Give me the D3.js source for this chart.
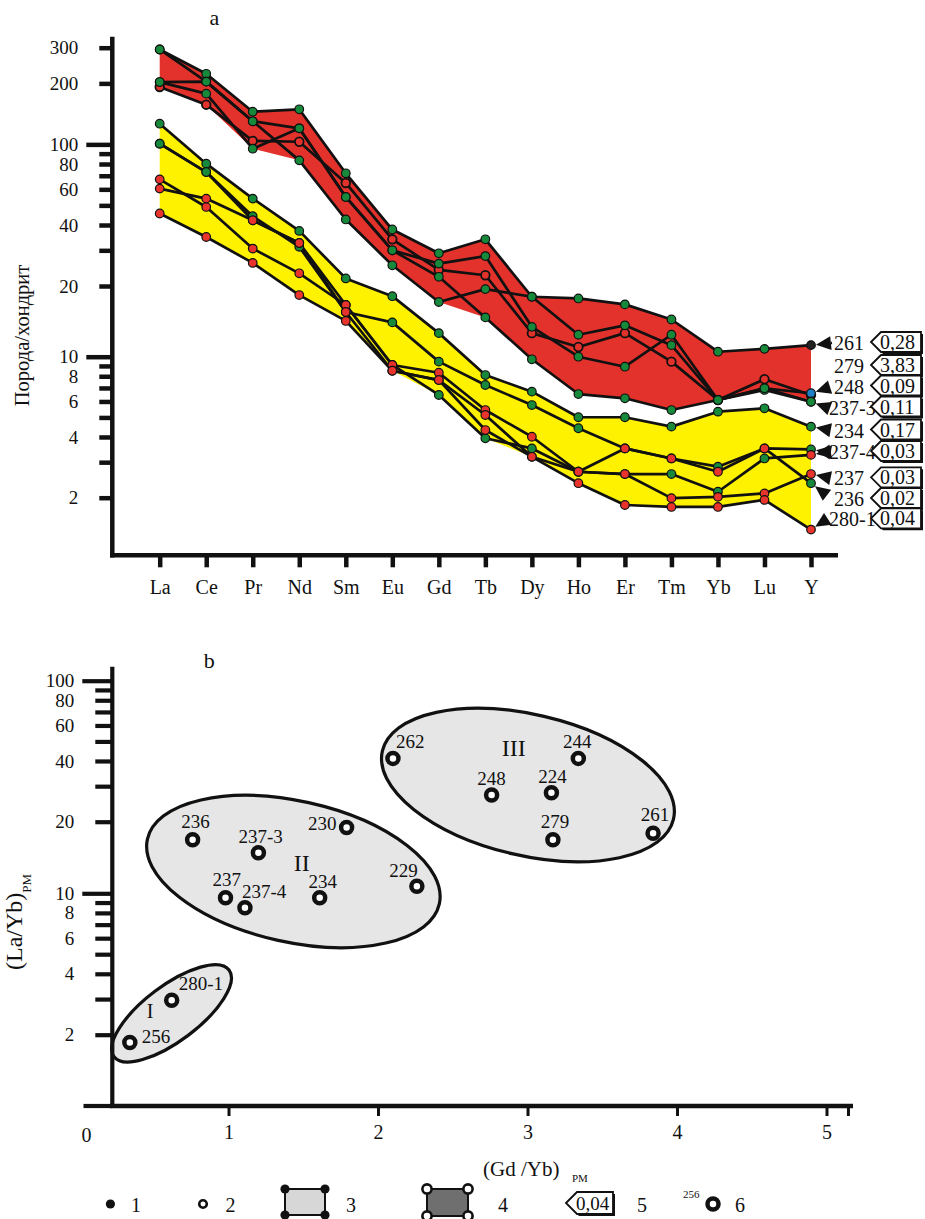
<!DOCTYPE html>
<html>
<head>
<meta charset="utf-8">
<script src="https://cdn.jsdelivr.net/npm/d3@7"></script>
<style>
  body { margin: 0; background: #fff; }
  text { font-family: "Liberation Serif", "Times New Roman", serif; fill: #111; }
</style>
</head>
<body>
<script>
// ---- data, chart a (rock / chondrite) ----
const elements = ['La','Ce','Pr','Nd','Sm','Eu','Gd','Tb','Dy','Ho','Er','Tm','Yb','Lu','Y'];

// red field
const s261  = [294, 223, 145, 149, 72, 38, 29, 34, 18.0, 17.7, 16.7, 14.4, 10.5, 10.8, 11.2];
const s279  = [192, 157, 104, 103, 64.5, 34, 24, 22.6, 12.6, 11.0, 12.6, 9.45, 6.10, 7.73, 6.46];
const s248  = [294, 204, 130, 120, 55, 30, 25.8, 28.1, 13.4, 10.0, 8.92, 12.4, 6.10, 6.97, 6.59];
const s2373 = [203, 178, 95.2, 120, 55, 30, 22.2, 14.7, 9.71, 6.53, 6.22, 5.44, 6.10, 6.84, 5.98];
const sRed5 = [203, 204, 130, 83.4, 42.6, 25.3, 17.1, 19.4, 18.0, 12.4, 13.6, 11.2, 6.10, 6.97, 5.98];
// yellow field
const s234  = [126.5, 80.3, 54.0, 37.4, 21.8, 18.1, 12.6, 8.11, 6.71, 5.01, 5.01, 4.50, 5.34, 5.55, 4.50];
const s2374 = [100.8, 73.0, 44.2, 31.2, 15.5, 14.0, 9.45, 7.24, 5.76, 4.42, 3.51, 3.13, 2.85, 3.51, 3.47];
const sYel6 = [100.8, 73.0, 42.2, 32.6, 16.6, 9.10, 6.46, 3.94, 3.51, 2.69, 2.62, 2.62, 2.14, 3.13, 3.26];
const s237  = [67.2, 49.1, 30.6, 23.1, 16.6, 9.10, 8.33, 5.44, 4.01, 2.69, 2.62, 1.99, 2.02, 2.10, 2.62];
const s236  = [60.5, 54.0, 42.2, 32.6, 15.5, 8.52, 7.66, 5.14, 3.19, 2.69, 3.51, 3.13, 2.69, 3.51, 2.36];
const s2801 = [45.6, 34.9, 26.0, 18.3, 14.2, 8.52, 7.66, 4.33, 3.19, 2.36, 1.84, 1.80, 1.80, 1.95, 1.39];

const yTicksA   = [300, 200, 100, 90, 80, 70, 60, 50, 40, 30, 20, 10, 9, 8, 7, 6, 5, 4, 3, 2];
const yLabelsA  = [300, 200, 100, 80, 60, 40, 20, 10, 8, 6, 4, 2];
const sampleLabels = ['261','279','248','237-3','234','237-4','237','236','280-1'];
const sampleRatios = ['0,28','3,83','0,09','0,11','0,17','0,03','0,03','0,02','0,04'];

// ---- data, chart b ----
const sampleIds = ['262','236','237-3','230','229','237','237-4','234','244','248','224','279','261','280-1','256'];
const gdYb = [2.10, 0.76, 1.20, 1.79, 2.26, 0.98, 1.11, 1.61, 3.34, 2.76, 3.16, 3.17, 3.84, 0.62, 0.34];
const laYb = [41.2, 16.8, 14.8, 18.9, 10.7, 9.51, 8.49, 9.51, 41.2, 27.1, 27.8, 16.8, 17.9, 2.96, 1.83];
const groupNames = ['I','II','III'];
const groupGdYb  = [0.619, 1.434, 3.003];
const groupLaYb  = [2.55, 12.35, 30.4];
const yTicksB  = [100, 90, 80, 70, 60, 50, 40, 30, 20, 10, 9, 8, 7, 6, 5, 4, 3, 2];
const yLabelsB = [100, 80, 60, 40, 20, 10, 8, 6, 4, 2];
const xTicksB  = [1, 2, 3, 4, 5];

// ---- styles ----
const RED_FILL = '#e2322b', YELLOW = '#fff200', GREEN = '#17893b', RED_DOT = '#e8342c', BLUE = '#1f80c8', INK = '#111';
const FONT = '"Liberation Serif", "Times New Roman", serif';

const redSeries = [
  {id: '261', values: s261, dot: GREEN, end: '#222'},
  {id: '279', values: s279, dot: RED_FILL, open: true},
  {id: '248', values: s248, dot: GREEN, end: BLUE},
  {id: '237-3', values: s2373, dot: GREEN},
  {id: 'r5', values: sRed5, dot: GREEN}
];
const yellowSeries = [
  {id: '234', values: s234, dot: GREEN},
  {id: '237-4', values: s2374, dot: GREEN},
  {id: 'y6', values: sYel6, dot: GREEN, end: RED_DOT},
  {id: '237', values: s237, dot: RED_DOT},
  {id: '236', values: s236, dot: RED_DOT, end: GREEN},
  {id: '280-1', values: s2801, dot: RED_DOT}
];
// which line ends each side label points at
const labelTargets = {'261': ['261'], '279': [], '248': ['248'], '237-3': ['237-3'], '234': ['234'],
  '237-4': ['237-4', 'y6'], '237': ['237'], '236': ['236'], '280-1': ['280-1']};
const labelRowY = [343, 366, 386.5, 407.5, 430.5, 452, 478.3, 499, 519.3];

const svg = d3.select('body').append('svg').attr('width', 925).attr('height', 1219);

// ================= chart a =================
const xA = d3.scalePoint().domain(elements).range([159.7, 811]);
// hand-drawn log axis: decades are not evenly spaced, so piecewise on log10
const yLogA = d3.scaleLinear()
  .domain([Math.log10(2), 1, Math.log10(20), Math.log10(300)])
  .range([497.7, 356.7, 286, 47.7]);
const yA = v => yLogA(Math.log10(v));

const gA = svg.append('g').attr('id', 'chartA');

function envelope(series) {
  return elements.map((e, i) => ({e: e,
    lo: d3.min(series, s => s.values[i]), hi: d3.max(series, s => s.values[i])}));
}
const band = d3.area().x(d => xA(d.e)).y0(d => yA(d.lo)).y1(d => yA(d.hi));
gA.append('path').datum(envelope(redSeries)).attr('d', band).attr('fill', RED_FILL);
gA.append('path').datum(envelope(yellowSeries)).attr('d', band).attr('fill', YELLOW);

const lineA = d3.line().x((d, i) => xA(elements[i])).y(d => yA(d));
const allSeries = redSeries.concat(yellowSeries);
gA.selectAll('path.series').data(allSeries).enter().append('path')
  .attr('class', 'series')
  .attr('d', d => lineA(d.values))
  .attr('fill', 'none').attr('stroke', INK).attr('stroke-width', 2.7).attr('stroke-linejoin', 'round');

allSeries.forEach(s => {
  gA.selectAll(null).data(s.values).enter().append('circle')
    .attr('cx', (d, i) => xA(elements[i]))
    .attr('cy', d => yA(d))
    .attr('r', 4.3)
    .attr('fill', (d, i) => (i == elements.length - 1 && s.end) ? s.end : s.dot)
    .attr('stroke', INK).attr('stroke-width', s.open ? 1.8 : 1.2);
});

// axes a
const yAxisA = gA.append('g').attr('transform', 'translate(112.3,0)')
  .call(d3.axisLeft(yLogA).tickValues(yTicksA.map(Math.log10)).tickSize(13).tickPadding(21).tickSizeOuter(0)
    .tickFormat(l => { const v = Math.round(Math.pow(10, l)); return yLabelsA.includes(v) ? v : ''; }));
yAxisA.select('.domain').remove();
yAxisA.attr('font-family', FONT).attr('font-size', 19);
yAxisA.selectAll('.tick line').attr('stroke', INK).attr('stroke-width', 4.5)
  .attr('x2', l => [100, 10].includes(Math.round(Math.pow(10, l))) ? -26 : -13);
yAxisA.selectAll('.tick text').attr('fill', INK);

const xAxisA = gA.append('g').attr('transform', 'translate(0,555.3)')
  .call(d3.axisBottom(xA).tickSize(12).tickPadding(13).tickSizeOuter(0));
xAxisA.select('.domain').remove();
xAxisA.attr('font-family', FONT).attr('font-size', 20);
xAxisA.selectAll('.tick line').attr('stroke', INK).attr('stroke-width', 4.5);
xAxisA.selectAll('.tick text').attr('fill', INK);

gA.append('line').attr('x1', 112.3).attr('x2', 112.3).attr('y1', 36.7).attr('y2', 557.5)
  .attr('stroke', INK).attr('stroke-width', 4.5);
gA.append('line').attr('x1', 110).attr('x2', 838).attr('y1', 555.3).attr('y2', 555.3)
  .attr('stroke', INK).attr('stroke-width', 4.5);

gA.append('text').attr('x', 214.3).attr('y', 17).attr('text-anchor', 'middle')
  .attr('dominant-baseline', 'central').attr('font-size', 22).text('a');
gA.append('text').attr('transform', 'translate(29,335.5) rotate(-90)').attr('text-anchor', 'middle')
  .attr('font-size', 20.5).text('Порода/хондрит');

// value box (legend item 5 style)
function valueBox(g, tipX, cy, w, h, label, fs) {
  const pts = [[tipX, cy], [tipX + h / 2, cy - h / 2], [tipX + w, cy - h / 2], [tipX + w, cy + h / 2], [tipX + h / 2, cy + h / 2]];
  g.append('polygon').attr('points', pts.map(p => (p[0] + 2) + ',' + (p[1] + 2)).join(' ')).attr('fill', INK);
  g.append('polygon').attr('points', pts.map(p => p.join(',')).join(' '))
    .attr('fill', '#fff').attr('stroke', INK).attr('stroke-width', 1.8);
  g.append('text').attr('x', tipX + h / 2 - 1).attr('y', cy).attr('dominant-baseline', 'central')
    .attr('font-size', fs).text(label);
}

// side labels with arrows
const seriesById = {};
allSeries.forEach(s => seriesById[s.id] = s);
sampleLabels.forEach((name, k) => {
  const ry = labelRowY[k];
  const tx = name.length > 3 ? 829 : 834;
  gA.append('text').attr('x', tx).attr('y', ry).attr('dominant-baseline', 'central')
    .attr('font-size', 20).text(name);
  valueBox(gA, 871, ry - 1, 50, 20, sampleRatios[k], 20);
  labelTargets[name].forEach(id => {
    const s = seriesById[id];
    const T = [xA('Y'), yA(s.values[s.values.length - 1])];
    const A = [tx - 2, ry];
    const len = Math.hypot(A[0] - T[0], A[1] - T[1]);
    const d = [(A[0] - T[0]) / len, (A[1] - T[1]) / len];
    const tip = [T[0] + d[0] * 5, T[1] + d[1] * 5];
    const base = [tip[0] + d[0] * 15, tip[1] + d[1] * 15];
    const n = [-d[1] * 7, d[0] * 7];
    gA.append('polygon')
      .attr('points', [tip, [base[0] + n[0], base[1] + n[1]], [base[0] - n[0], base[1] - n[1]]].map(p => p.join(',')).join(' '))
      .attr('fill', INK);
    if (name == '261') {
      gA.append('line').attr('x1', base[0]).attr('y1', base[1]).attr('x2', A[0]).attr('y2', A[1])
        .attr('stroke', INK).attr('stroke-width', 2.5);
    }
  });
});

// ================= chart b =================
const xB = d3.scaleLinear().domain([0, 5]).range([79, 826.5]);
const yLogB = d3.scaleLinear()
  .domain([Math.log10(2), 1, Math.log10(20), 2])
  .range([1034.7, 893.3, 821.7, 680.7]);
const yB = v => yLogB(Math.log10(v));

const gB = svg.append('g').attr('id', 'chartB');

// group ellipses (sizes in px, centres in data units)
const ellipseShape = [{rx: 72, ry: 27.6, rot: -37, ldx: -21.5, ldy: -2, fs: 20},
                      {rx: 149.5, ry: 70.5, rot: 12.5, ldx: 8.3, ldy: -8.2, fs: 24},
                      {rx: 149.5, ry: 70.5, rot: 13.2, ldx: -14.2, ldy: -36.7, fs: 24}];
groupNames.forEach((nm, i) => {
  const cx = xB(groupGdYb[i]), cy = yB(groupLaYb[i]), e = ellipseShape[i];
  gB.append('ellipse').attr('transform', 'translate(' + cx + ',' + cy + ') rotate(' + e.rot + ')')
    .attr('rx', e.rx).attr('ry', e.ry).attr('fill', '#e6e6e6').attr('stroke', INK).attr('stroke-width', 3.2);
  gB.append('text').attr('x', cx + e.ldx).attr('y', cy + e.ldy).attr('text-anchor', 'middle')
    .attr('dominant-baseline', 'central').attr('font-size', e.fs).text(nm);
});

// point label placement
const labelPos = {
  '262': [3, -10, 'start'], '236': [3, -12, 'middle'], '237-3': [-20, -10, 'start'], '230': [-10, 2, 'end'],
  '229': [1, -9, 'end'], '237': [-13, -12, 'start'], '237-4': [-3, -10, 'start'], '234': [3, -10, 'middle'],
  '244': [-1, -10, 'middle'], '248': [0, -10, 'middle'], '224': [1, -10, 'middle'], '279': [2, -12, 'middle'],
  '261': [2, -12, 'middle'], '280-1': [7, -10, 'start'], '256': [12, 0, 'start']
};
const pts = sampleIds.map((id, i) => ({id: id, x: gdYb[i], y: laYb[i]}));
gB.selectAll('circle.pt').data(pts).enter().append('circle').attr('class', 'pt')
  .attr('cx', d => xB(d.x)).attr('cy', d => yB(d.y)).attr('r', 5.5)
  .attr('fill', '#fff').attr('stroke', INK).attr('stroke-width', 4.5);
gB.selectAll('text.pl').data(pts).enter().append('text').attr('class', 'pl')
  .attr('x', d => xB(d.x) + labelPos[d.id][0]).attr('y', d => yB(d.y) + labelPos[d.id][1])
  .attr('text-anchor', d => labelPos[d.id][2]).attr('font-size', 19).text(d => d.id);

// axes b
const yAxisB = gB.append('g').attr('transform', 'translate(112.3,0)')
  .call(d3.axisLeft(yLogB).tickValues(yTicksB.map(Math.log10)).tickSize(17).tickPadding(21).tickSizeOuter(0)
    .tickFormat(l => { const v = Math.round(Math.pow(10, l)); return yLabelsB.includes(v) ? v : ''; }));
yAxisB.select('.domain').remove();
yAxisB.attr('font-family', FONT).attr('font-size', 19);
yAxisB.selectAll('.tick line').attr('stroke', INK).attr('stroke-width', 4.2)
  .attr('x2', l => [100, 10].includes(Math.round(Math.pow(10, l))) ? -30 : -17);
yAxisB.selectAll('.tick text').attr('fill', INK);

const xAxisB = gB.append('g').attr('transform', 'translate(0,1106)')
  .call(d3.axisBottom(xB).tickValues(xTicksB).tickSize(10).tickPadding(9).tickSizeOuter(0).tickFormat(d3.format('d')));
xAxisB.select('.domain').remove();
xAxisB.attr('font-family', FONT).attr('font-size', 20);
xAxisB.selectAll('.tick line').attr('stroke', INK).attr('stroke-width', 3);
xAxisB.selectAll('.tick text').attr('fill', INK);

gB.append('line').attr('x1', 112.3).attr('x2', 112.3).attr('y1', 666.7).attr('y2', 1108)
  .attr('stroke', INK).attr('stroke-width', 4.2);
gB.append('line').attr('x1', 110).attr('x2', 853).attr('y1', 1106).attr('y2', 1106)
  .attr('stroke', INK).attr('stroke-width', 4.5);
gB.append('line').attr('x1', 848.5).attr('x2', 848.5).attr('y1', 1106).attr('y2', 1116)
  .attr('stroke', INK).attr('stroke-width', 3);
gB.append('line').attr('x1', 83.5).attr('x2', 112).attr('y1', 1106).attr('y2', 1106)
  .attr('stroke', INK).attr('stroke-width', 4.2);
gB.append('text').attr('x', xB(0) + 7.5).attr('y', 1142).attr('text-anchor', 'middle').attr('font-size', 20).text('0');

gB.append('text').attr('x', 209.3).attr('y', 660).attr('text-anchor', 'middle')
  .attr('dominant-baseline', 'central').attr('font-size', 22).text('b');

gB.append('text').attr('x', 483).attr('y', 1176).attr('font-size', 21).text('(Gd /Yb)');
gB.append('text').attr('x', 572).attr('y', 1182).attr('font-size', 11).text('PM');
const yt = gB.append('text').attr('transform', 'translate(22,970) rotate(-90)').attr('font-size', 24).text('(La/Yb)');
yt.append('tspan').attr('font-size', 13).attr('dy', 9).text('PM');

// ---- legend ----
const gL = svg.append('g').attr('id', 'legend');
const legendNums = ['1', '2', '3', '4', '5', '6'];
const legendNumX = [131, 225.5, 346, 498, 637, 735];
legendNums.forEach((t, i) => gL.append('text').attr('x', legendNumX[i]).attr('y', 1212).attr('font-size', 20).text(t));
gL.append('circle').attr('cx', 110.4).attr('cy', 1204).attr('r', 4.6).attr('fill', INK);
gL.append('circle').attr('cx', 203).attr('cy', 1204).attr('r', 3.8).attr('fill', '#fff').attr('stroke', INK).attr('stroke-width', 2.6);
gL.append('rect').attr('x', 285).attr('y', 1189).attr('width', 40).attr('height', 26)
  .attr('fill', '#d7d7d7').attr('stroke', INK).attr('stroke-width', 2);
[[285, 1189], [325, 1189], [285, 1215], [325, 1215]].forEach(c =>
  gL.append('circle').attr('cx', c[0]).attr('cy', c[1]).attr('r', 4.6).attr('fill', INK));
gL.append('rect').attr('x', 427).attr('y', 1189).attr('width', 41).attr('height', 27)
  .attr('fill', '#6f6f6f').attr('stroke', INK).attr('stroke-width', 2);
[[427, 1189], [468, 1189], [427, 1216], [468, 1216]].forEach(c =>
  gL.append('circle').attr('cx', c[0]).attr('cy', c[1]).attr('r', 4.6).attr('fill', '#fff').attr('stroke', INK).attr('stroke-width', 2.6));
valueBox(gL, 566, 1203, 47, 22, '0,04', 19);
gL.append('text').attr('x', 683).attr('y', 1198).attr('font-size', 11).text('256');
gL.append('circle').attr('cx', 713).attr('cy', 1204).attr('r', 5.5).attr('fill', '#fff').attr('stroke', INK).attr('stroke-width', 4.5);
</script>
</body>
</html>
